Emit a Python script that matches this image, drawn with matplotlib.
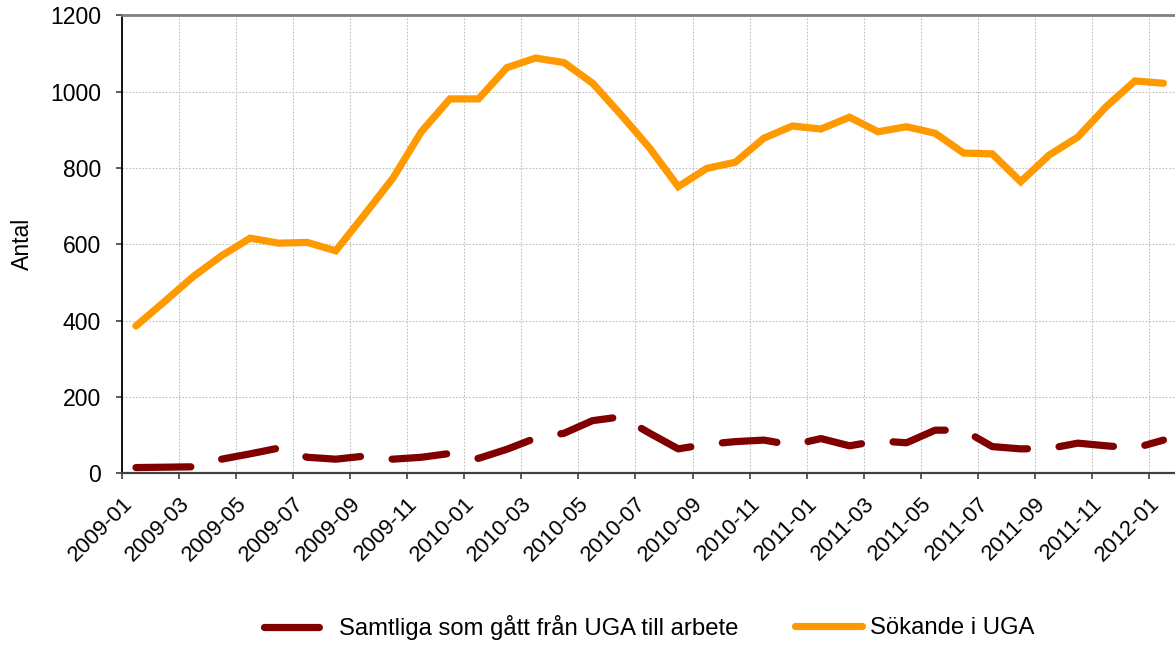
import matplotlib
matplotlib.use("Agg")
import matplotlib.pyplot as plt
import numpy as np
from matplotlib.transforms import ScaledTranslation

plt.rcParams['font.family'] = ['Liberation Sans', 'DejaVu Sans']

months = ['2009-01', '2009-02', '2009-03', '2009-04', '2009-05', '2009-06', '2009-07',
          '2009-08', '2009-09', '2009-10', '2009-11', '2009-12', '2010-01', '2010-02',
          '2010-03', '2010-04', '2010-05', '2010-06', '2010-07', '2010-08', '2010-09',
          '2010-10', '2010-11', '2010-12', '2011-01', '2011-02', '2011-03', '2011-04',
          '2011-05', '2011-06', '2011-07', '2011-08', '2011-09', '2011-10', '2011-11',
          '2011-12', '2012-01']

sokande = [386, 450, 515, 570, 616, 603, 605, 583, 677, 773, 895, 981, 981, 1063,
           1088, 1076, 1022, 939, 852, 751, 799, 815, 878, 910, 902, 933, 895, 908,
           891, 839, 837, 764, 834, 881, 961, 1028, 1022]

arbete = [15, 16, 17, 37, 51, 66, 42, 37, 45, 37, 42, 52, 39, 63, 92, 105, 138, 148,
          105, 64, 76, 83, 87, 74, 91, 72, 85, 80, 113, 113, 70, 64, 65, 79, 72, 66, 87]

label_arbete = 'Samtliga som gått från UGA till arbete'
label_sokande = 'Sökande i UGA'

W, H = 1175, 646
DPI = 100
fig = plt.figure(figsize=(W / DPI, H / DPI), dpi=DPI)
left, right, top, bottom = 121.7, 1177.7, 15.3, 473.3
ax = fig.add_axes([left / W, 1 - bottom / H, (right - left) / W, (bottom - top) / H])

n = len(months)
x = np.arange(n) + 0.5

l_arb, = ax.plot(x, arbete, color='#800000', lw=5.2, dashes=(7.6, 4.4),
                 dash_capstyle='round', solid_capstyle='round',
                 label=label_arbete, zorder=3)
l_sok, = ax.plot(x, sokande, color='#FF9900', lw=5.2, solid_capstyle='round',
                 solid_joinstyle='miter', label=label_sokande, zorder=4)

ax.set_xlim(0, n)
ax.set_ylim(0, 1200)
ax.set_yticks(np.arange(0, 1201, 200))

XFS = 15.9
YFS = 16.6
tick_pos = np.arange(0, n, 2)
ax.set_xticks(tick_pos)
ax.set_xticklabels(months[0::2], rotation=45, ha='right', va='top',
                   rotation_mode='anchor', fontsize=XFS)
for lbl in ax.get_xticklabels():
    lbl.set_transform(lbl.get_transform() + ScaledTranslation(10.1 / 72, 0, fig.dpi_scale_trans))

ax.tick_params(axis='x', direction='out', length=4.3, width=1.2, color='#404040', pad=10.1)
ax.tick_params(axis='y', direction='out', length=4.5, width=1.2, color='#404040',
               pad=10.5, labelsize=YFS)

ax.grid(True, which='major', color='#c0c0c0', linestyle=(0, (1.5, 1.5)), lw=0.8)
ax.set_axisbelow(True)

ax.spines['right'].set_visible(False)
ax.spines['top'].set_color('#808080')
ax.spines['top'].set_linewidth(2)
ax.spines['left'].set_color('black')
ax.spines['left'].set_linewidth(1.3)
ax.spines['bottom'].set_color('#404040')
ax.spines['bottom'].set_linewidth(1.6)

ax.set_ylabel('Antal', fontsize=YFS)
ax.yaxis.set_label_coords(-(left - 33.6) / (right - left), 0.5)

LFS = 17.2
em = LFS / 72 * DPI
leg1 = fig.legend(handles=[l_arb], loc='center left',
                  bbox_to_anchor=(263.6 / W, 1 - 628 / H), frameon=False,
                  fontsize=LFS, handlelength=56.8 / em, handletextpad=19 / em,
                  borderpad=0, borderaxespad=0)
leg2 = fig.legend(handles=[l_sok], loc='center left',
                  bbox_to_anchor=(795.4 / W, 1 - 628 / H), frameon=False,
                  fontsize=LFS, handlelength=66.6 / em, handletextpad=8 / em,
                  borderpad=0, borderaxespad=0)

fig.savefig('out.png', dpi=DPI)
